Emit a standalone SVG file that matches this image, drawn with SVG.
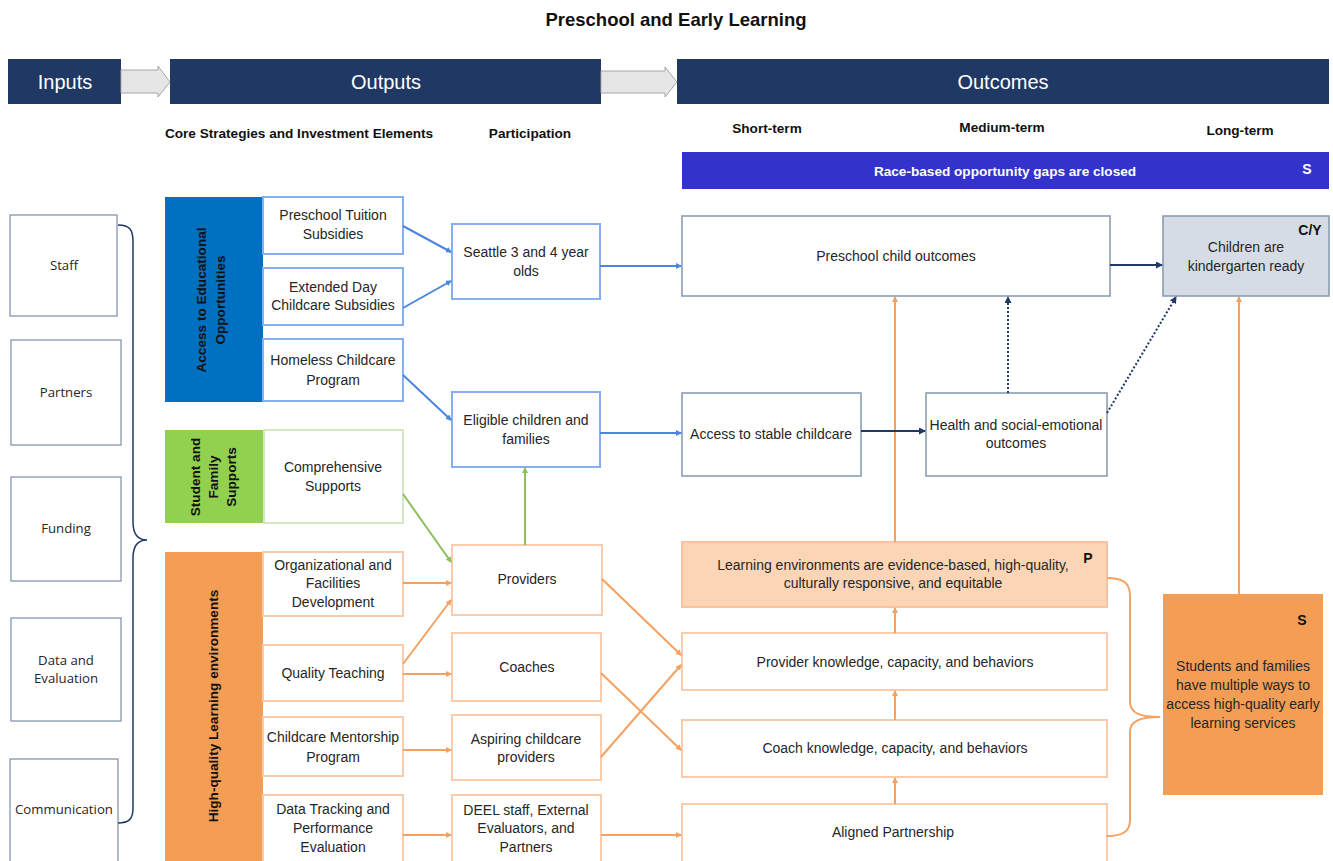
<svg xmlns="http://www.w3.org/2000/svg" width="1333" height="861" viewBox="0 0 1333 861">
<defs>
<style>
text{font-family:"Liberation Sans",Arial,sans-serif;font-size:14px;fill:#262626;text-anchor:middle}
.hdr{fill:#203864}
.hdrt{fill:#fff;font-size:20px}
.sub{font-weight:bold;font-size:13.6px;fill:#111}
.inp{fill:#fff;stroke:#8497B0;stroke-width:1.3}
.inpt{font-family:"Open Sans","Liberation Sans",sans-serif;font-size:13.2px}
.bbox{fill:#fff;stroke:#86AEF2;stroke-width:2}
.gbox{fill:#fff;stroke:#D5E8C4;stroke-width:2}
.obox{fill:#fff;stroke:#F8CBAD;stroke-width:2}
.nbox{fill:#fff;stroke:#8497B0;stroke-width:1.5}
.rot{font-weight:bold;font-size:13.6px;fill:#111}
.bl{stroke:#4A86E0;stroke-width:2;fill:none;marker-end:url(#ab)}
.gl{stroke:#8DBF5A;stroke-width:2;fill:none;marker-end:url(#ag)}
.ol{stroke:#F4A261;stroke-width:2;fill:none;marker-end:url(#ao)}
.nl{stroke:#1F3864;stroke-width:2;fill:none;marker-end:url(#an)}
.dl{stroke:#1F3864;stroke-width:2;fill:none;stroke-dasharray:2 2;marker-end:url(#an)}
.blk{fill:#E7E6E6;stroke:#A6A6A6;stroke-width:1}
.tag{font-weight:bold;font-size:14px;fill:#111}
</style>
<marker id="ab" markerWidth="6" markerHeight="6" refX="5" refY="3" orient="auto" markerUnits="userSpaceOnUse"><path d="M0,0 L6,3 L0,6 z" fill="#4A86E0"/></marker>
<marker id="ag" markerWidth="6" markerHeight="6" refX="5" refY="3" orient="auto" markerUnits="userSpaceOnUse"><path d="M0,0 L6,3 L0,6 z" fill="#8DBF5A"/></marker>
<marker id="ao" markerWidth="6" markerHeight="6" refX="5" refY="3" orient="auto" markerUnits="userSpaceOnUse"><path d="M0,0 L6,3 L0,6 z" fill="#F4A261"/></marker>
<marker id="an" markerWidth="7" markerHeight="7" refX="6" refY="3.5" orient="auto" markerUnits="userSpaceOnUse"><path d="M0,0 L7,3.5 L0,7 z" fill="#1F3864"/></marker>
</defs>
<rect width="1333" height="861" fill="#fff"/>

<text x="676" y="26" style="font-weight:bold;font-size:18.5px;fill:#111">Preschool and Early Learning</text>

<g id="headers">
<rect class="hdr" x="8" y="59" width="113" height="45"/>
<text class="hdrt" x="65" y="89">Inputs</text>
<rect class="hdr" x="170" y="59" width="431" height="45"/>
<text class="hdrt" x="386" y="89">Outputs</text>
<rect class="hdr" x="677" y="59" width="652" height="45"/>
<text class="hdrt" x="1003" y="89">Outcomes</text>
<path class="blk" d="M121,70 L158,70 L158,66 L170,82 L158,97 L158,93 L121,93 z"/>
<path class="blk" d="M601,71 L665,71 L665,67 L677,82 L665,97 L665,93 L601,93 z"/>
</g>

<g id="subheaders">
<text class="sub" x="299" y="138">Core Strategies and Investment Elements</text>
<text class="sub" x="530" y="138">Participation</text>
<text class="sub" x="767" y="133">Short-term</text>
<text class="sub" x="1002" y="132">Medium-term</text>
<text class="sub" x="1240" y="135">Long-term</text>
</g>

<g id="race-gaps">
<rect x="682" y="152" width="647" height="37" fill="#3333CC"/>
<text x="1005" y="176" style="fill:#fff;font-weight:bold;font-size:13.6px">Race-based opportunity gaps are closed</text>
<text x="1307" y="174" style="fill:#fff;font-weight:bold;font-size:14px">S</text>
</g>

<g id="inputs">
<g id="in-staff"><rect class="inp" x="10" y="215" width="107" height="101"/><text class="inpt" x="64" y="270">Staff</text></g>
<g id="in-partners"><rect class="inp" x="11" y="340" width="110" height="105"/><text class="inpt" x="66" y="397">Partners</text></g>
<g id="in-funding"><rect class="inp" x="11" y="477" width="110" height="104"/><text class="inpt" x="66" y="533">Funding</text></g>
<g id="in-data"><rect class="inp" x="11" y="618" width="110" height="103"/><text class="inpt" x="66" y="665">Data and</text><text class="inpt" x="66" y="683">Evaluation</text></g>
<g id="in-comm"><rect class="inp" x="10" y="759" width="108" height="104"/><text class="inpt" x="64" y="814">Communication</text></g>
<path d="M118,225 C130,225 133,230 133,242 L133,522 C133,534 138,540 147,540 C138,540 133,546 133,558 L133,808 C133,819 129,823 118,823" fill="none" stroke="#1F3864" stroke-width="1.5"/>
</g>

<g id="categories">
<g id="cat-access"><rect x="165" y="197" width="98" height="205" fill="#0070C0"/>
<text class="rot" transform="translate(206,300) rotate(-90)">Access to Educational</text>
<text class="rot" transform="translate(225,300) rotate(-90)">Opportunities</text></g>
<g id="cat-support"><rect x="165" y="430" width="99" height="93" fill="#92D050"/>
<text class="rot" transform="translate(200,477) rotate(-90)">Student and</text>
<text class="rot" transform="translate(218,477) rotate(-90)">Family</text>
<text class="rot" transform="translate(236,477) rotate(-90)">Supports</text></g>
<g id="cat-quality"><rect x="165" y="552" width="98" height="309" fill="#F39D55"/>
<text class="rot" transform="translate(218,706) rotate(-90)">High-quality Learning environments</text></g>
</g>

<g id="strategies">
<g id="s-tuition"><rect class="bbox" x="263" y="197" width="140" height="57"/><text x="333" y="220">Preschool Tuition</text><text x="333" y="239">Subsidies</text></g>
<g id="s-extended"><rect class="bbox" x="263" y="268" width="140" height="57"/><text x="333" y="292">Extended Day</text><text x="333" y="310">Childcare Subsidies</text></g>
<g id="s-homeless"><rect class="bbox" x="263" y="339" width="140" height="62"/><text x="333" y="365">Homeless Childcare</text><text x="333" y="385">Program</text></g>
<g id="s-comprehensive"><rect class="gbox" x="264" y="430" width="139" height="93"/><text x="333" y="472">Comprehensive</text><text x="333" y="491">Supports</text></g>
<g id="s-org"><rect class="obox" x="263" y="552" width="140" height="64"/><text x="333" y="570">Organizational and</text><text x="333" y="588">Facilities</text><text x="333" y="607">Development</text></g>
<g id="s-teaching"><rect class="obox" x="263" y="645" width="140" height="56"/><text x="333" y="678">Quality Teaching</text></g>
<g id="s-mentor"><rect class="obox" x="263" y="717" width="140" height="59"/><text x="333" y="742">Childcare Mentorship</text><text x="333" y="762">Program</text></g>
<g id="s-data"><rect class="obox" x="263" y="795" width="140" height="70"/><text x="333" y="814">Data Tracking and</text><text x="333" y="833">Performance</text><text x="333" y="852">Evaluation</text></g>
</g>

<g id="participation">
<g id="p-seattle"><rect class="bbox" x="452" y="224" width="148" height="75"/><text x="526" y="257">Seattle 3 and 4 year</text><text x="526" y="276">olds</text></g>
<g id="p-eligible"><rect class="bbox" x="452" y="392" width="148" height="75"/><text x="526" y="425">Eligible children and</text><text x="526" y="444">families</text></g>
<g id="p-providers"><rect class="obox" x="452" y="545" width="150" height="70"/><text x="527" y="584">Providers</text></g>
<g id="p-coaches"><rect class="obox" x="452" y="633" width="149" height="68"/><text x="527" y="672">Coaches</text></g>
<g id="p-aspiring"><rect class="obox" x="452" y="715" width="149" height="65"/><text x="526" y="744">Aspiring childcare</text><text x="526" y="762">providers</text></g>
<g id="p-deel"><rect class="obox" x="452" y="795" width="149" height="70"/><text x="526" y="815">DEEL staff, External</text><text x="526" y="833">Evaluators, and</text><text x="526" y="852">Partners</text></g>
</g>

<g id="outcomes">
<g id="o-preschool"><rect class="nbox" x="682" y="216" width="428" height="80"/><text x="896" y="261">Preschool child outcomes</text></g>
<g id="o-access"><rect class="nbox" x="682" y="393" width="179" height="83"/><text x="771" y="439">Access to stable childcare</text></g>
<g id="o-health"><rect class="nbox" x="926" y="393" width="181" height="83"/><text x="1016" y="430">Health and social-emotional</text><text x="1016" y="448">outcomes</text></g>
<g id="o-learning"><rect x="682" y="542" width="425" height="65" fill="#FBD5B5" stroke="#F8C3A0" stroke-width="2"/><text x="893" y="570">Learning environments are evidence-based, high-quality,</text><text x="893" y="588">culturally responsive, and equitable</text><text class="tag" x="1088" y="563">P</text></g>
<g id="o-provider"><rect class="obox" x="682" y="633" width="425" height="57"/><text x="895" y="667">Provider knowledge, capacity, and behaviors</text></g>
<g id="o-coach"><rect class="obox" x="682" y="720" width="425" height="57"/><text x="895" y="753">Coach knowledge, capacity, and behaviors</text></g>
<g id="o-aligned"><rect class="obox" x="682" y="804" width="425" height="60"/><text x="893" y="837">Aligned Partnership</text></g>
<g id="o-kinder"><rect x="1163" y="216" width="166" height="80" fill="#D6DCE5" stroke="#8497B0" stroke-width="1.5"/><text x="1246" y="252">Children are</text><text x="1246" y="271">kindergarten ready</text><text class="tag" x="1310" y="235">C/Y</text></g>
<g id="o-students"><rect x="1163" y="594" width="160" height="201" fill="#F39D55"/><text class="tag" x="1302" y="625">S</text><text x="1243" y="671">Students and families</text><text x="1243" y="690">have multiple ways to</text><text x="1243" y="709">access high-quality early</text><text x="1243" y="728">learning services</text></g>
</g>

<g id="connectors">
<line class="bl" x1="403" y1="226" x2="451" y2="252"/>
<line class="bl" x1="403" y1="308" x2="451" y2="281"/>
<line class="bl" x1="403" y1="375" x2="451" y2="420"/>
<line class="bl" x1="600" y1="266" x2="681" y2="266"/>
<line class="bl" x1="600" y1="433" x2="681" y2="433"/>
<line class="gl" x1="403" y1="494" x2="451" y2="562"/>
<line class="gl" x1="525" y1="545" x2="525" y2="468"/>
<line class="ol" x1="403" y1="583" x2="451" y2="583"/>
<line class="ol" x1="403" y1="664" x2="451" y2="600"/>
<line class="ol" x1="403" y1="674" x2="451" y2="674"/>
<line class="ol" x1="403" y1="750" x2="451" y2="750"/>
<line class="ol" x1="403" y1="835" x2="451" y2="835"/>
<line class="ol" x1="602" y1="579" x2="681" y2="655"/>
<line class="ol" x1="601" y1="673" x2="681" y2="750"/>
<line class="ol" x1="601" y1="757" x2="681" y2="665"/>
<line class="ol" x1="601" y1="835" x2="681" y2="835"/>
<line class="ol" x1="895" y1="804" x2="895" y2="778"/>
<line class="ol" x1="895" y1="720" x2="895" y2="691"/>
<line class="ol" x1="895" y1="633" x2="895" y2="608"/>
<line class="ol" x1="895" y1="542" x2="895" y2="297"/>
<line class="ol" x1="1239" y1="594" x2="1239" y2="297"/>
<path d="M1107,578 C1122,578 1130,582 1130,596 L1130,702 C1130,713 1140,717 1160,717 C1140,717 1130,721 1130,732 L1130,820 C1130,832 1122,836 1107,836" fill="none" stroke="#F4A261" stroke-width="2"/>
<line class="nl" x1="1110" y1="265" x2="1162" y2="265"/>
<line class="nl" x1="861" y1="431" x2="925" y2="431"/>
<line class="dl" x1="1008" y1="393" x2="1008" y2="297"/>
<line class="dl" x1="1107" y1="413" x2="1176" y2="297"/>
</g>
</svg>
